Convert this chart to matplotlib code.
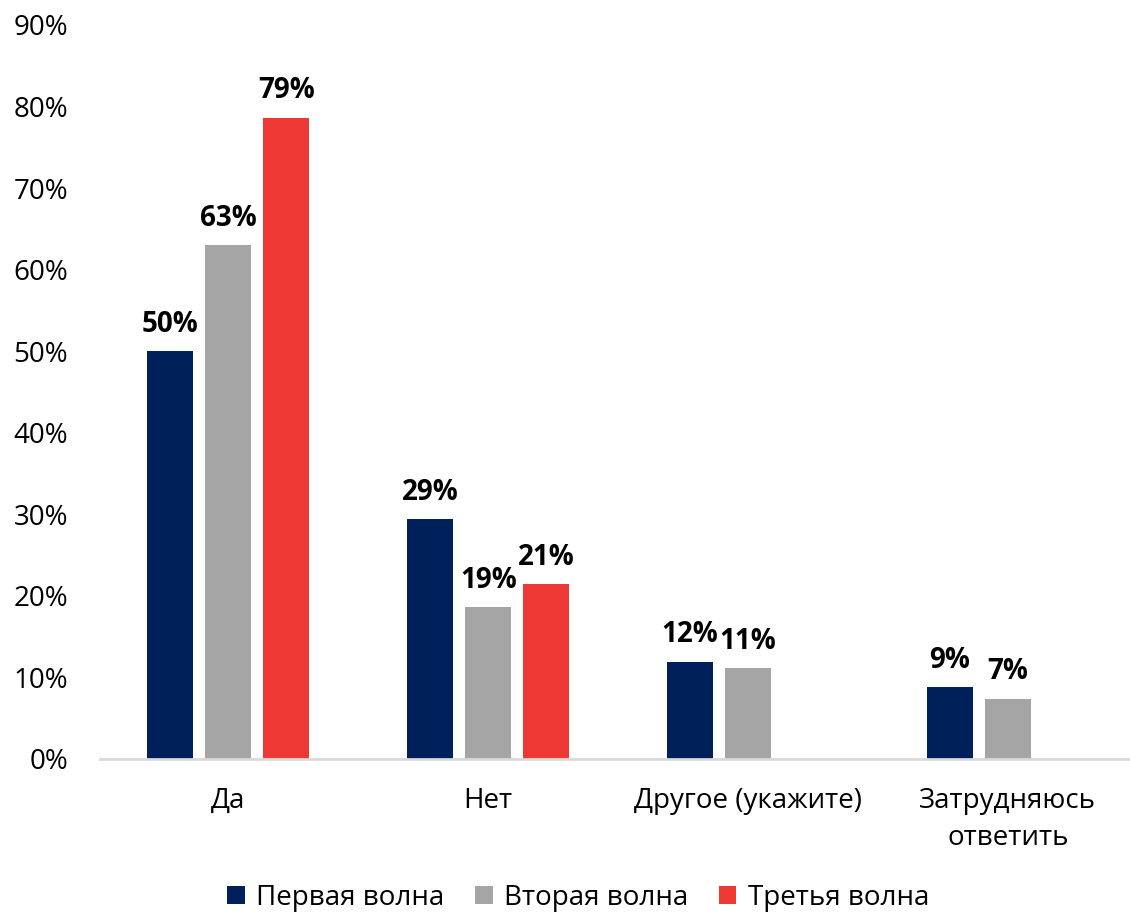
import matplotlib
matplotlib.use("Agg")
import matplotlib.pyplot as plt
import numpy as np
from matplotlib.patches import Patch

# Ответы по волнам опроса, доли в процентах
categories = ["Да", "Нет", "Другое (укажите)", "Затрудняюсь\nответить"]
waves = ["Первая волна", "Вторая волна", "Третья волна"]
wave1 = [50.0, 29.4, 11.9, 8.8]
wave2 = [63.0, 18.6, 11.1, 7.4]
wave3 = [78.6, 21.4, None, None]
y_ticks = [0, 10, 20, 30, 40, 50, 60, 70, 80, 90]

COLORS = ["#00205B", "#A5A5A5", "#EE3833"]

plt.rcParams["font.family"] = ["Open Sans", "DejaVu Sans"]

fig = plt.figure(figsize=(11.3, 9.15), dpi=100)
ax = fig.add_axes([0.0885, 0.1705, 0.9115, 0.8022])

x = np.arange(len(categories))
width = 0.177
step = 0.223

for i, (series, color) in enumerate(zip([wave1, wave2, wave3], COLORS)):
    xs = [xi + (i - 1) * step for xi, v in zip(x, series) if v is not None]
    vals = [v for v in series if v is not None]
    bars = ax.bar(xs, vals, width=width, color=color)
    ax.bar_label(bars, labels=[f"{v:.0f}%" for v in vals], padding=9,
                 fontsize=20, fontweight="bold")

ax.set_ylim(0, 90)
ax.set_xlim(-0.494, 3.47)
ax.set_yticks(y_ticks)
ax.set_yticklabels([f"{t}%" for t in y_ticks])
ax.set_xticks(x)
ax.set_xticklabels(categories, linespacing=1.45)
ax.tick_params(axis="y", length=0, pad=23, labelsize=20)
ax.tick_params(axis="x", length=0, pad=20, labelsize=20)

for side in ["top", "right", "left"]:
    ax.spines[side].set_visible(False)
ax.spines["bottom"].set_color("#D9D9D9")
ax.spines["bottom"].set_linewidth(2)

handles = [Patch(facecolor=c, edgecolor="none") for c in COLORS]
fig.legend(handles, waves, loc="lower center", bbox_to_anchor=(0.512, -0.024),
           ncol=3, frameon=False, fontsize=20, handlelength=0.62,
           handleheight=0.65, handletextpad=0.43, columnspacing=1.1)

fig.savefig("out.png", dpi=100)
